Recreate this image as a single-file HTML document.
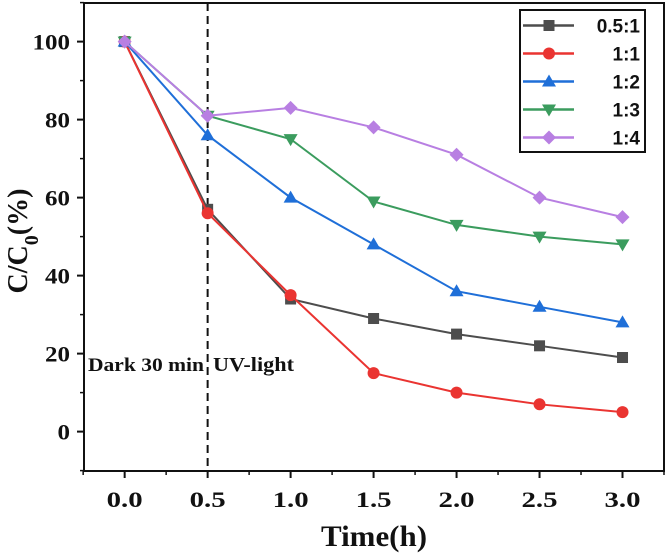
<!DOCTYPE html>
<html><head><meta charset="utf-8"><style>
html,body{margin:0;padding:0;background:#fff;}
svg{display:block;}
.tk{font-family:"Liberation Serif",serif;font-weight:bold;font-size:22px;fill:#111;}
.lg{font-family:"Liberation Sans",sans-serif;font-weight:bold;font-size:19px;fill:#111;}
</style></head><body>
<svg id="chart" width="666" height="555" viewBox="0 0 666 555" xmlns="http://www.w3.org/2000/svg"></svg>
<script>
const timesH = [0, 0.5, 1.0, 1.5, 2.0, 2.5, 3.0];
const seriesNames = ["0.5:1", "1:1", "1:2", "1:3", "1:4"];
const s05 = [100, 57, 34, 29, 25, 22, 19];
const s11 = [100, 56, 35, 15, 10, 7, 5];
const s12 = [100, 76, 60, 48, 36, 32, 28];
const s13 = [100, 81, 75, 59, 53, 50, 48];
const s14 = [100, 81, 83, 78, 71, 60, 55];
const xTicks = [0, 0.5, 1.0, 1.5, 2.0, 2.5, 3.0];
const xTickLabels = ["0.0", "0.5", "1.0", "1.5", "2.0", "2.5", "3.0"];
const yTicks = [0, 20, 40, 60, 80, 100];
const yTickLabels = ["0", "20", "40", "60", "80", "100"];

const NS = "http://www.w3.org/2000/svg";
const svg = document.getElementById("chart");
const L = 84, R = 664, T = 3, B = 471;
const xMin = -0.245, xMax = 3.25, yMin = -10.1, yMax = 109.9;
const xs = v => L + (v - xMin) / (xMax - xMin) * (R - L);
const ys = v => B - (v - yMin) / (yMax - yMin) * (B - T);
function el(tag, attrs, parent) {
  const e = document.createElementNS(NS, tag);
  for (const k in attrs) e.setAttribute(k, attrs[k]);
  (parent || svg).appendChild(e);
  return e;
}

const frame = el("rect", {x: L, y: T, width: R - L, height: B - T, fill: "none", stroke: "#111", "stroke-width": 2});



xTicks.forEach((v, i) => {
  const t = el("line", {x1: xs(v), x2: xs(v), y1: B, y2: B + 7, stroke: "#111", "stroke-width": 2});
  
  
  const lb = el("text", {x: xs(v), y: 507, "text-anchor": "middle", class: "tk", textLength: 36, lengthAdjust: "spacingAndGlyphs"});
  lb.textContent = xTickLabels[i];
  
  
});
for (let v = -0.25; v <= 3.26; v += 0.5) {
  const m = el("line", {x1: xs(v), x2: xs(v), y1: B, y2: B + 4, stroke: "#111", "stroke-width": 1.5});
  
  
}
yTicks.forEach((v, i) => {
  const t = el("line", {x1: L - 7, x2: L, y1: ys(v), y2: ys(v), stroke: "#111", "stroke-width": 2});
  
  
  const lb = el("text", {x: L - 14, y: ys(v) + 8, "text-anchor": "end", class: "tk", textLength: 12.5 * yTickLabels[i].length, lengthAdjust: "spacingAndGlyphs"});
  lb.textContent = yTickLabels[i];
  
  
});
for (let v = -10; v <= 110; v += 20) {
  const m = el("line", {x1: L - 4, x2: L, y1: ys(v), y2: ys(v), stroke: "#111", "stroke-width": 1.5});
  
  
}

const yt = el("text", {x: 0, y: 0, transform: "translate(27,241) rotate(-90)", "text-anchor": "middle", style: "font-family:'Liberation Serif',serif;font-weight:bold;font-size:28px;fill:#111"});
yt.innerHTML = 'C/C<tspan baseline-shift="sub" font-size="20">0</tspan>(%)';


const xt = el("text", {x: 374, y: 546, "text-anchor": "middle", style: "font-family:'Liberation Serif',serif;font-weight:bold;font-size:30px;fill:#111", textLength: 106, lengthAdjust: "spacingAndGlyphs"});
xt.textContent = "Time(h)";



const dl = el("line", {x1: xs(0.5), x2: xs(0.5), y1: T, y2: B, stroke: "#111", "stroke-width": 2, "stroke-dasharray": "8,5"});


const a1 = el("text", {x: 88, y: 371, style: "font-family:'Liberation Serif',serif;font-weight:bold;font-size:19px;fill:#111", textLength: 116, lengthAdjust: "spacingAndGlyphs"});
a1.textContent = "Dark 30 min";


const a2 = el("text", {x: 213, y: 371, style: "font-family:'Liberation Serif',serif;font-weight:bold;font-size:20px;fill:#111", textLength: 81, lengthAdjust: "spacingAndGlyphs"});
a2.textContent = "UV-light";



const colors = ["#4d4d4d", "#ea3431", "#1f6fd8", "#3b9c5e", "#b87fe2"];
const markers = ["square", "circle", "tri-up", "tri-down", "diamond"];
const allSeries = [s05, s11, s12, s13, s14];
function marker(type, cx, cy, color, parent) {
  const r = 6;
  let m;
  if (type === "square") m = el("rect", {x: cx - 5.5, y: cy - 5.5, width: 11, height: 11, fill: color}, parent);
  else if (type === "circle") m = el("circle", {cx, cy, r, fill: color}, parent);
  else if (type === "tri-up") m = el("polygon", {points: `${cx},${cy-7} ${cx+7},${cy+5} ${cx-7},${cy+5}`, fill: color}, parent);
  else if (type === "tri-down") m = el("polygon", {points: `${cx},${cy+7} ${cx+7},${cy-5} ${cx-7},${cy-5}`, fill: color}, parent);
  else m = el("polygon", {points: `${cx},${cy-7} ${cx+7},${cy} ${cx},${cy+7} ${cx-7},${cy}`, fill: color}, parent);
  return m;
}
allSeries.forEach((vals, si) => {
  const g = el("g", {});
  
  
  const pts = vals.map((v, i) => xs(timesH[i]) + "," + ys(v)).join(" ");
  const pl = el("polyline", {points: pts, fill: "none", stroke: colors[si], "stroke-width": 2}, g);
  
  
  vals.forEach((v, i) => {
    const m = marker(markers[si], xs(timesH[i]), ys(v), colors[si], g);
    
    
  });
});

const lg = el("g", {});


el("rect", {x: 520, y: 10, width: 125, height: 142, fill: "#fff", stroke: "#111", "stroke-width": 2}, lg);
seriesNames.forEach((n, i) => {
  const y = 25.5 + i * 28;
  const ent = el("g", {}, lg);
  
  
  el("line", {x1: 523, x2: 574, y1: y, y2: y, stroke: colors[i], "stroke-width": 2.5}, ent);
  marker(markers[i], 549, y, colors[i], ent);
  const t = el("text", {x: 640, y: y + 7, "text-anchor": "end", class: "lg"}, ent);
  t.textContent = n;
});
</script>
</body></html>
